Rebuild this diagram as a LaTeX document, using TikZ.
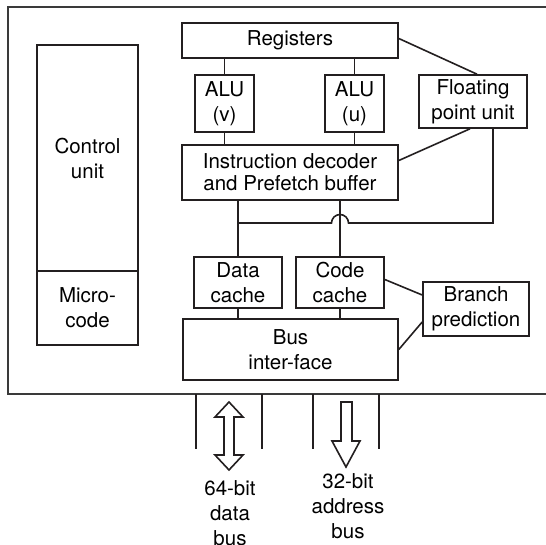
\documentclass[tikz,border=0pt]{standalone}
\usepackage{fontspec}
\setmainfont{TeX Gyre Heros}
\usetikzlibrary{calc}
\definecolor{ink}{HTML}{231F20}
\definecolor{rim}{HTML}{3A3A3A}
\tikzset{
  box/.style={draw=ink, line width=1.6pt, align=center, inner sep=0pt,
    font=\fontsize{20.5}{25}\selectfont},
  wire/.style={draw=ink, line width=1.6pt},
  frame/.style={draw=rim, line width=1.1pt},
  pin/.style={draw=ink, line width=1.4pt},
  busarrow/.style={draw=ink, line width=1.6pt, line join=miter, fill=white},
  caption/.style={align=center, inner sep=0pt, anchor=north,
    font=\fontsize{20.5}{25}\selectfont},
}

\begin{document}
\begin{tikzpicture}[x=1pt, y=-1pt]
        \useasboundingbox (0,0) rectangle (546,545);
        % chip outline, open to the right
        \draw[frame] (546,7) -- (8,7) -- (8,394) -- (546,394);
        % left column
        \node[box, minimum width=101pt, minimum height=226pt] (ctrl) at (87.5,158) {Control\\unit};
        \node[box, minimum width=101pt, minimum height=74pt] (micro) at (87.5,308) {Micro-\\code};
        % execution units
        \node[box, minimum width=216pt, minimum height=35pt] (reg) at (290,40.5) {Registers};
        \node[box, minimum width=59pt, minimum height=57pt] (aluv) at (224.5,103.5) {ALU\\(v)};
        \node[box, minimum width=59pt, minimum height=57pt] (aluu) at (354.5,103.5) {ALU\\(u)};
        \node[box, minimum width=108pt, minimum height=53pt] (fpu) at (473,101.5) {Floating\\point unit};
        \node[box, minimum width=216pt, minimum height=55pt, font=\fontsize{20.5}{22}\selectfont] (dec) at (290,172.5) {Instruction decoder\\and Prefetch buffer};
        % caches and bus
        \node[box, minimum width=88pt, minimum height=51pt] (dcache) at (238,282.5) {Data\\cache};
        \node[box, minimum width=88pt, minimum height=51pt] (ccache) at (340,282.5) {Code\\cache};
        \node[box, minimum width=106pt, minimum height=54pt] (branch) at (476,309) {Branch\\prediction};
        \node[box, minimum width=215pt, minimum height=61pt] (bus) at (290.5,349.5) {Bus\\inter-face};
        % connectors
        \draw[wire] (aluv.north) -- (aluv.north |- reg.south);
        \draw[wire] (aluu.north) -- (aluu.north |- reg.south);
        \draw[wire] (aluv.south) -- (aluv.south |- dec.north);
        \draw[wire] (aluu.south) -- (aluu.south |- dec.north);
        \draw[wire] ([yshift=2pt]reg.east) -- ([xshift=4pt]fpu.north);
        \draw[wire] ([xshift=-3pt]fpu.south) -- ([yshift=12pt]dec.east);
        \draw[wire] (dcache.north) -- (dcache.north |- dec.south);
        \draw[wire] (ccache.north) -- (ccache.north |- dec.south);
        \draw[wire] (dcache.south) -- (dcache.south |- bus.north);
        \draw[wire] (ccache.south) -- (ccache.south |- bus.north);
        \coordinate (knee) at (493,223);
        \draw[wire] (fpu.south -| knee) -- (knee)
          -- ($(ccache.north |- knee)+(8.5,0)$) arc[start angle=0, end angle=180, radius=8.5pt]
          -- (dcache.north |- knee);
        \draw[wire] ([yshift=3pt]ccache.east) -- ([yshift=14pt]branch.west);
        \draw[wire] ([yshift=-13pt]branch.west) -- (bus.east);
        % external bus lines
        \foreach \x in {196,262,313,379}
          \draw[pin] (\x,394) -- (\x,449);
        \draw[busarrow] (229,402) -- (243,417) -- (234,417) -- (234,455) -- (243,455) -- (229,470)
          -- (215,455) -- (224,455) -- (224,417) -- (215,417) -- cycle;
        \draw[busarrow] (341,402) -- (352,402) -- (352,441) -- (360,441) -- (346,467)
          -- (332,441) -- (341,441) -- cycle;
        \node[caption] (datalbl) at (230,480.5) {64-bit\\data\\bus};
        \node[caption] (addrlbl) at (348,473.5) {32-bit\\address\\bus};
      \end{tikzpicture}
\end{document}
